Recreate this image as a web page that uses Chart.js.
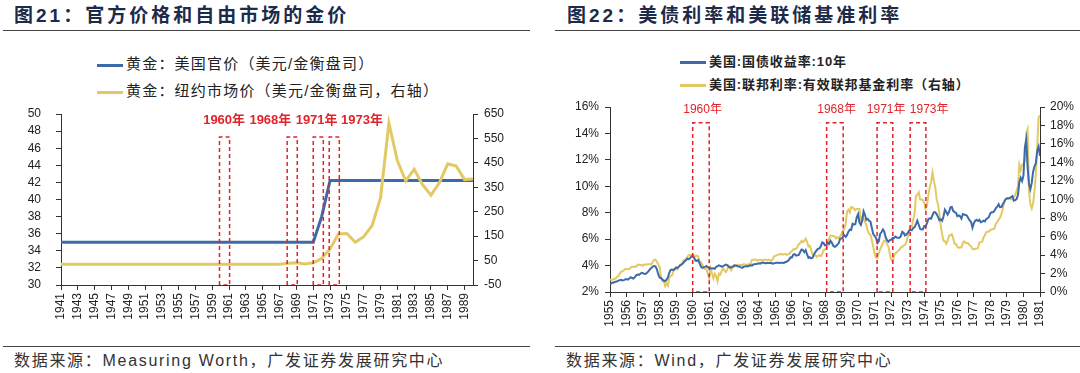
<!DOCTYPE html>
<html>
<head>
<meta charset="utf-8">
<script src="https://cdn.jsdelivr.net/npm/chart.js@4.4.1/dist/chart.umd.min.js"></script>
<style>
  body { margin: 0; width: 1080px; height: 373px; background: #fff; position: relative; overflow: hidden;
         font-family: "Liberation Sans", "Noto Sans CJK SC", sans-serif; }
  .abs { position: absolute; white-space: nowrap; }
  .title { font-weight: bold; font-size: 19px; line-height: 24px; color: #1c2b4a; letter-spacing: 3px; }
  .rule { height: 0; border-top: 1.5px solid #444; }
  .leg { font-size: 15px; line-height: 18px; color: #222; letter-spacing: 1.2px; }
  .leg2 { font-size: 13px; line-height: 18px; color: #222; font-weight: bold; letter-spacing: 0.9px; }
  .leg i, .leg2 i { display: inline-block; width: 26px; height: 0; border-top: 3px solid; vertical-align: middle; margin-right: 3px; }
  .src { font-size: 16px; line-height: 20px; color: #333; letter-spacing: 1.7px; }
  canvas { position: absolute; }
</style>
</head>
<body>
<div class="abs title" style="left:14px;top:4px">图21：官方价格和自由市场的金价</div>
<div class="abs rule" style="left:3px;top:30px;width:527px"></div>
<div class="abs leg" style="left:97px;top:55px"><i style="border-color:#3d6aa8"></i>黄金：美国官价（美元/金衡盘司）</div>
<div class="abs leg" style="left:97px;top:82px"><i style="border-color:#e3c964"></i>黄金：纽约市场价（美元/金衡盘司，右轴）</div>
<canvas id="goldChart" width="530" height="230" style="left:0;top:100px"></canvas>
<div class="abs rule" style="left:3px;top:346px;width:527px"></div>
<div class="abs src" style="left:14px;top:351px">数据来源：Measuring Worth，广发证券发展研究中心</div>

<div class="abs title" style="left:567px;top:4px">图22：美债利率和美联储基准利率</div>
<div class="abs rule" style="left:555px;top:30px;width:525px"></div>
<div class="abs leg2" style="left:680px;top:53px"><i style="border-color:#3d6aa8"></i>美国:国债收益率:10年</div>
<div class="abs leg2" style="left:680px;top:76px"><i style="border-color:#e3c964"></i>美国:联邦利率:有效联邦基金利率（右轴）</div>
<canvas id="rateChart" width="535" height="240" style="left:545px;top:95px"></canvas>
<div class="abs rule" style="left:555px;top:346px;width:525px"></div>
<div class="abs src" style="left:566px;top:351px">数据来源：Wind，广发证券发展研究中心</div>

<script>
// ---- 图21 data ----
const goldYears = [1941, 1942, 1943, 1944, 1945, 1946, 1947, 1948, 1949, 1950,
  1951, 1952, 1953, 1954, 1955, 1956, 1957, 1958, 1959, 1960,
  1961, 1962, 1963, 1964, 1965, 1966, 1967, 1968, 1969, 1970,
  1971, 1972, 1973, 1974, 1975, 1976, 1977, 1978, 1979, 1980,
  1981, 1982, 1983, 1984, 1985, 1986, 1987, 1988, 1989, 1990];
const goldTickYears = [1941, 1943, 1945, 1947, 1949, 1951, 1953, 1955, 1957, 1959, 1961, 1963,
  1965, 1967, 1969, 1971, 1973, 1975, 1977, 1979, 1981, 1983, 1985, 1987, 1989];
// 美国官价 (left axis)
const officialPrice = [35, 35, 35, 35, 35, 35, 35, 35, 35, 35,
  35, 35, 35, 35, 35, 35, 35, 35, 35, 35,
  35, 35, 35, 35, 35, 35, 35, 35, 35, 35,
  35, 38, 42.22, 42.22, 42.22, 42.22, 42.22, 42.22, 42.22, 42.22,
  42.22, 42.22, 42.22, 42.22, 42.22, 42.22, 42.22, 42.22, 42.22, 42.22];
// 纽约市场价 (right axis)
const marketPrice = [35, 35, 35, 35, 35, 35, 35, 35, 35, 35,
  35, 35, 35, 35, 35, 35, 35, 35, 35, 35,
  35, 35, 35, 35, 35, 35, 35, 39.3, 41.1, 35.9,
  40.8, 58.4, 97.4, 159.3, 161.0, 124.8, 147.7, 193.2, 306.7, 612.6,
  459.6, 375.9, 424.0, 360.7, 317.7, 368.2, 446.5, 436.9, 381.4, 383.5];

// ---- 图22 data (monthly, Jan 1955 .. Jan 1981) ----
const rateTickYears = [1955, 1956, 1957, 1958, 1959, 1960, 1961, 1962, 1963, 1964, 1965, 1966, 1967,
  1968, 1969, 1970, 1971, 1972, 1973, 1974, 1975, 1976, 1977, 1978, 1979, 1980, 1981];
const treasury10y = [
  2.62, 2.66, 2.70, 2.74, 2.78, 2.80, 2.86, 2.90, 2.92, 2.88, 2.90, 2.95,
  2.98, 2.94, 3.02, 3.12, 3.06, 3.02, 3.12, 3.26, 3.32, 3.30, 3.38, 3.45,
  3.42, 3.36, 3.38, 3.48, 3.58, 3.72, 3.82, 3.92, 3.96, 3.94, 3.72, 3.35,
  3.10, 3.05, 2.95, 2.85, 2.82, 2.92, 3.10, 3.45, 3.68, 3.70, 3.66, 3.76,
  3.86, 3.82, 3.92, 4.02, 4.10, 4.18, 4.30, 4.40, 4.52, 4.48, 4.55, 4.68,
  4.72, 4.58, 4.38, 4.35, 4.42, 4.18, 3.92, 3.82, 3.86, 3.90, 3.96, 3.86,
  3.84, 3.80, 3.78, 3.80, 3.76, 3.90, 3.96, 4.02, 3.98, 3.92, 3.96, 4.02,
  4.08, 4.04, 3.93, 3.84, 3.87, 3.91, 4.01, 3.98, 3.98, 3.93, 3.92, 3.86,
  3.83, 3.92, 3.93, 3.97, 3.93, 3.99, 4.02, 4.00, 4.08, 4.11, 4.12, 4.13,
  4.17, 4.15, 4.22, 4.23, 4.20, 4.17, 4.19, 4.19, 4.20, 4.19, 4.15, 4.18,
  4.19, 4.21, 4.21, 4.20, 4.21, 4.21, 4.20, 4.25, 4.29, 4.35, 4.45, 4.62,
  4.61, 4.83, 4.87, 4.75, 4.78, 4.81, 5.02, 5.22, 5.18, 5.01, 5.16, 4.84,
  4.58, 4.63, 4.54, 4.59, 4.85, 5.02, 5.16, 5.28, 5.30, 5.48, 5.75, 5.70,
  5.53, 5.56, 5.74, 5.64, 5.87, 5.72, 5.50, 5.42, 5.46, 5.58, 5.70, 6.03,
  6.04, 6.19, 6.30, 6.17, 6.32, 6.57, 6.72, 6.69, 7.16, 7.10, 7.14, 7.65,
  7.90, 7.24, 7.07, 7.39, 8.10, 7.84, 7.46, 7.53, 7.39, 7.33, 6.84, 6.39,
  6.24, 6.11, 5.70, 5.83, 6.39, 6.52, 6.73, 6.58, 6.14, 5.93, 5.81, 5.93,
  5.95, 6.08, 6.07, 6.19, 6.13, 6.11, 6.11, 6.21, 6.55, 6.48, 6.28, 6.36,
  6.46, 6.64, 6.71, 6.67, 6.85, 6.90, 7.13, 7.40, 7.09, 6.79, 6.73, 6.74,
  6.99, 6.96, 7.21, 7.51, 7.58, 7.54, 7.81, 8.04, 8.04, 7.90, 7.68, 7.43,
  7.50, 7.39, 7.73, 8.23, 8.06, 7.86, 8.06, 8.40, 8.43, 8.14, 8.05, 8.00,
  7.74, 7.79, 7.73, 7.56, 7.90, 7.86, 7.83, 7.77, 7.59, 7.41, 7.29, 6.87,
  7.21, 7.39, 7.46, 7.37, 7.46, 7.28, 7.33, 7.40, 7.34, 7.52, 7.58, 7.69,
  7.96, 8.03, 8.04, 8.15, 8.35, 8.46, 8.64, 8.41, 8.42, 8.64, 8.81, 9.01,
  9.10, 9.10, 9.12, 9.18, 9.25, 8.91, 8.95, 9.03, 9.33, 10.30, 10.65, 10.39,
  10.80, 12.90, 13.50, 11.47, 10.18, 9.78, 10.25, 11.10, 11.51, 11.75, 12.68, 13.00,
  12.30];
const fedFunds = [
  1.39, 1.29, 1.35, 1.43, 1.43, 1.64, 1.68, 1.96, 2.18, 2.24, 2.35, 2.48,
  2.45, 2.50, 2.50, 2.62, 2.75, 2.71, 2.75, 2.73, 2.95, 2.96, 2.88, 2.94,
  2.84, 3.00, 2.96, 3.00, 3.00, 3.00, 2.99, 3.24, 3.47, 3.50, 3.28, 2.98,
  2.72, 1.67, 1.20, 1.26, 0.63, 0.93, 0.68, 1.53, 1.76, 1.80, 2.27, 2.42,
  2.48, 2.43, 2.80, 2.96, 2.90, 3.39, 3.47, 3.50, 3.76, 3.98, 4.00, 3.99,
  3.99, 3.97, 3.84, 3.92, 3.85, 3.32, 3.23, 2.98, 2.60, 2.47, 2.44, 1.98,
  1.45, 2.54, 2.02, 1.49, 1.98, 1.73, 1.17, 2.00, 1.88, 2.26, 2.62, 2.33,
  2.15, 2.37, 2.85, 2.78, 2.36, 2.68, 2.71, 2.93, 2.90, 2.90, 2.94, 2.93,
  2.92, 3.00, 2.98, 2.90, 3.00, 2.99, 3.02, 3.49, 3.48, 3.50, 3.48, 3.38,
  3.48, 3.48, 3.43, 3.47, 3.50, 3.50, 3.42, 3.50, 3.45, 3.36, 3.52, 3.85,
  3.90, 3.98, 4.04, 4.09, 4.10, 4.04, 4.09, 4.12, 4.01, 4.08, 4.10, 4.32,
  4.42, 4.60, 4.65, 4.67, 4.90, 5.17, 5.30, 5.53, 5.40, 5.53, 5.76, 5.40,
  4.94, 5.00, 4.53, 4.05, 3.94, 3.98, 3.79, 3.90, 3.99, 3.88, 4.13, 4.51,
  4.60, 4.71, 5.05, 5.76, 6.11, 6.07, 6.02, 6.03, 5.78, 5.91, 5.82, 6.02,
  6.30, 6.64, 6.79, 7.41, 8.67, 8.90, 8.61, 9.19, 9.15, 9.00, 8.85, 8.97,
  8.98, 8.98, 7.76, 8.10, 7.95, 7.61, 7.21, 6.61, 6.29, 6.20, 5.60, 4.90,
  4.14, 3.72, 3.71, 4.16, 4.63, 4.91, 5.31, 5.56, 5.55, 5.20, 4.91, 4.14,
  3.50, 3.29, 3.83, 4.17, 4.27, 4.46, 4.55, 4.80, 4.87, 5.04, 5.06, 5.33,
  5.94, 6.58, 7.09, 7.12, 7.84, 8.49, 10.40, 10.50, 10.78, 10.01, 10.03, 9.95,
  9.65, 8.97, 9.35, 10.51, 11.31, 11.93, 12.92, 12.01, 11.34, 10.06, 9.45, 8.53,
  7.13, 6.24, 5.54, 5.49, 5.22, 5.55, 6.10, 6.14, 6.24, 5.82, 5.22, 5.20,
  4.87, 4.77, 4.84, 4.82, 5.29, 5.48, 5.31, 5.29, 5.25, 5.02, 4.95, 4.65,
  4.61, 4.68, 4.69, 4.73, 5.35, 5.39, 5.42, 5.90, 6.14, 6.47, 6.51, 6.56,
  6.70, 6.78, 6.79, 6.89, 7.36, 7.60, 7.81, 8.04, 8.45, 8.96, 9.76, 10.03,
  10.07, 10.06, 10.09, 10.01, 10.24, 10.29, 10.47, 10.94, 11.43, 13.77, 13.18, 13.78,
  13.82, 14.13, 17.19, 17.61, 10.98, 9.47, 9.03, 9.61, 10.87, 12.81, 15.85, 18.90,
  19.08];

// event boxes [from, to] in years, and their labels
const eventNames = ['1960年', '1968年', '1971年', '1973年'];
const goldBoxes = [[1959.85, 1961.05], [1967.9, 1969.1], [1971.0, 1972.2], [1972.9, 1974.1]];
const rateBoxes = [[1960.0, 1961.0], [1968.1, 1969.1], [1971.15, 1972.1], [1973.15, 1974.1]];
const goldLabelX = [1960.4, 1965.9, 1971.4, 1976.8];
const rateLabelX = [1960.6, 1968.7, 1971.7, 1974.3];

const BLUE = '#3d6aa8', GOLD = '#e3c964', RED = '#e0242b', AXIS = '#333';
const tickFont = { family: '"Liberation Sans", Arial, sans-serif', size: 12 };

function boxPoints(b, bottom, top) {
  return [{x: b[0], y: bottom}, {x: b[0], y: top}, {x: b[1], y: top}, {x: b[1], y: bottom}, {x: b[0], y: bottom}];
}
function boxDatasets(boxes, bottom, top) {
  return boxes.map(b => ({
    data: boxPoints(b, bottom, top), borderColor: RED, borderWidth: 1.5, borderDash: [4, 3],
    pointRadius: 0, fill: false, tension: 0, order: -1, yAxisID: 'y'
  }));
}

// red year labels above the boxes
const eventLabels = {
  id: 'eventLabels',
  afterDatasetsDraw(chart, args, opts) {
    const ctx = chart.ctx, xs = chart.scales.x, ys = chart.scales.y;
    ctx.save();
    ctx.fillStyle = RED;
    ctx.font = opts.font;
    ctx.textAlign = 'center';
    ctx.textBaseline = 'middle';
    opts.names.forEach((t, i) => ctx.fillText(t, xs.getPixelForValue(opts.xs[i]), ys.getPixelForValue(opts.y)));
    ctx.restore();
  }
};

function yAxis(pos, min, max, step, width, pad, fmt) {
  return {
    position: pos, min: min, max: max,
    // fixed width; tick padding should not push the plot area down
    afterFit: s => { s.width = width; s.paddingTop = 0; s.paddingBottom = 0; },
    border: { color: AXIS, width: 1 },
    grid: { drawOnChartArea: false, color: AXIS, tickLength: 5 },
    ticks: { stepSize: step, autoSkip: false, color: '#222', font: tickFont, padding: pad, callback: fmt }
  };
}
function xAxis(min, max, tickYears, height) {
  return {
    type: 'linear', min: min, max: max,
    afterFit: s => { s.height = height; },
    afterBuildTicks: s => { s.ticks = tickYears.map(v => ({ value: v })); },
    border: { color: AXIS, width: 1 },
    grid: { drawOnChartArea: false, color: AXIS, tickLength: 5 },
    ticks: { color: '#222', font: tickFont, padding: 3, minRotation: 90, maxRotation: 90, autoSkip: false,
      callback: v => String(v) }
  };
}

// 图21
new Chart(document.getElementById('goldChart'), {
  type: 'line',
  data: {
    datasets: [
      { data: goldYears.map((y, i) => ({x: y, y: marketPrice[i]})), borderColor: GOLD, borderWidth: 3,
        pointRadius: 0, tension: 0, yAxisID: 'y1', order: 0 },
      { data: goldYears.map((y, i) => ({x: y, y: officialPrice[i]})), borderColor: BLUE, borderWidth: 3,
        pointRadius: 0, tension: 0, yAxisID: 'y', order: 1 }
    ].concat(boxDatasets(goldBoxes, 30, 47.3))
  },
  options: {
    responsive: false, animation: false,
    layout: { padding: { top: 14, left: 0, right: 0, bottom: 0 } },
    plugins: { legend: { display: false }, tooltip: { enabled: false },
      eventLabels: { names: eventNames, xs: goldLabelX, y: 49.2, font: 'bold 13px "Liberation Sans", "Noto Sans CJK SC", sans-serif' } },
    scales: {
      x: xAxis(1941, 1990, goldTickYears, 45),
      y: yAxis('left', 30, 50, 2, 61, 15, v => v),
      y1: yAxis('right', -50, 650, 100, 57, 6, v => v)
    }
  },
  plugins: [eventLabels]
});

// 图22
const monthX = fedFunds.map((v, i) => 1955 + i / 12);
new Chart(document.getElementById('rateChart'), {
  type: 'line',
  data: {
    datasets: [
      { data: monthX.map((x, i) => ({x: x, y: fedFunds[i]})), borderColor: GOLD, borderWidth: 2,
        pointRadius: 0, tension: 0, yAxisID: 'y1', order: 1 },
      { data: monthX.map((x, i) => ({x: x, y: treasury10y[i]})), borderColor: BLUE, borderWidth: 2,
        pointRadius: 0, tension: 0, yAxisID: 'y', order: 0 }
    ].concat(boxDatasets(rateBoxes, 2, 14.8))
  },
  options: {
    responsive: false, animation: false,
    layout: { padding: { top: 12, left: 0, right: 0, bottom: 0 } },
    plugins: { legend: { display: false }, tooltip: { enabled: false },
      eventLabels: { names: eventNames, xs: rateLabelX, y: 15.76, font: '12px "Liberation Sans", "Noto Sans CJK SC", sans-serif' } },
    scales: {
      x: xAxis(1955, 1981, rateTickYears, 43),
      y: yAxis('left', 2, 16, 2, 65, 6, v => v + '%'),
      y1: yAxis('right', 0, 20, 2, 40, 5, v => v + '%')
    }
  },
  plugins: [eventLabels]
});
</script>
</body>
</html>
